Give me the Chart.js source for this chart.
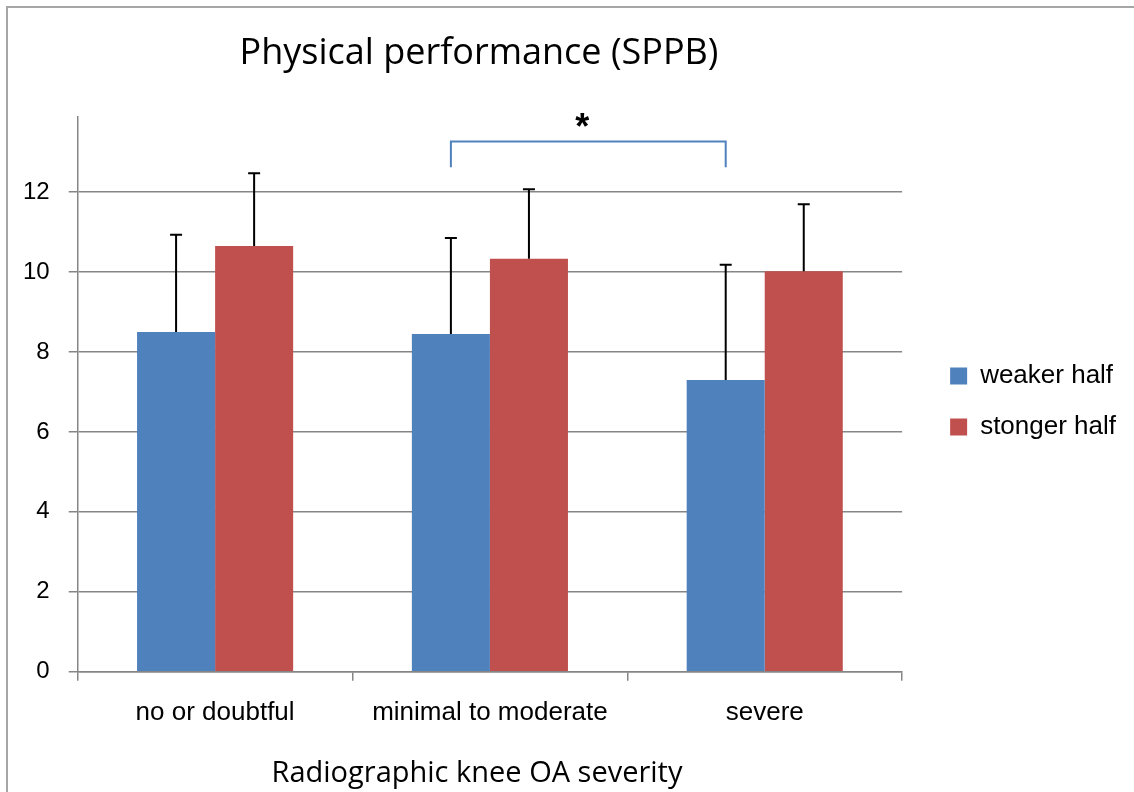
<!DOCTYPE html>
<html>
<head>
<meta charset="utf-8">
<script src="https://cdn.jsdelivr.net/npm/chart.js@4"></script>
<style>
  html, body { margin: 0; padding: 0; background: #fff; }
  #wrap { position: relative; width: 1134px; height: 792px; overflow: hidden; }
  #frame { position: absolute; left: 6px; top: 6px; right: -10px; bottom: -10px;
           border-left: 2px solid #a6a6a6; border-top: 2px solid #a6a6a6; pointer-events: none; }
</style>
</head>
<body>
<div id="wrap">
  <canvas id="chart" width="1134" height="792"></canvas>
  <div id="frame"></div>
</div>
<script>
const categories = ['no or doubtful', 'minimal to moderate', 'severe'];
const seriesNames = ['weaker half', 'stonger half'];
const weakerMeans = [8.5, 8.45, 7.3];
const weakerUpper = [10.93, 10.85, 10.18];
const strongerMeans = [10.65, 10.33, 10.02];
const strongerUpper = [12.47, 12.07, 11.69];
const seriesColors = ['#4f81bd', '#c0504d'];
const yMax = 13.875;
const yStep = 2;

// significance bracket: weaker half, minimal to moderate vs severe
const bracketFrom = 1;
const bracketTo = 2;
const bracketTop = 13.26;
const bracketFoot = 12.62;

const chartTitle = 'Physical performance (SPPB)';
const xTitle = 'Radiographic knee OA severity';

const axisGrey = '#868686';
const labelFont = 'Liberation Sans, Arial, sans-serif';
const titleFont = '"Open Sans", "Noto Sans", sans-serif';

// upper error bars
const errorBars = {
  id: 'errorBars',
  afterDatasetsDraw(chart) {
    const ctx = chart.ctx;
    const y = chart.scales.y;
    ctx.save();
    ctx.strokeStyle = '#000';
    ctx.lineWidth = 2;
    chart.data.datasets.forEach((ds, i) => {
      chart.getDatasetMeta(i).data.forEach((bar, j) => {
        const top = y.getPixelForValue(ds.upper[j]);
        ctx.beginPath();
        ctx.moveTo(bar.x, bar.y);
        ctx.lineTo(bar.x, top);
        ctx.moveTo(bar.x - 6, top);
        ctx.lineTo(bar.x + 6, top);
        ctx.stroke();
      });
    });
    ctx.restore();
  }
};

// titles, bracket and asterisk
const annotations = {
  id: 'annotations',
  afterLayout(chart) {
    // push the legend right and up, like the original
    const lg = chart.legend;
    lg.left += 23; lg.right += 23;
    lg.top -= 29; lg.bottom -= 29;
  },
  afterDraw(chart) {
    const ctx = chart.ctx;
    const y = chart.scales.y;
    const meta = chart.getDatasetMeta(0);
    ctx.save();

    ctx.fillStyle = '#000';
    ctx.textAlign = 'center';
    ctx.textBaseline = 'alphabetic';
    ctx.font = '36px ' + titleFont;
    ctx.fillText(chartTitle, 479, 64);
    ctx.font = '29px ' + titleFont;
    ctx.fillText(xTitle, 477, 782);

    const x1 = meta.data[bracketFrom].x;
    const x2 = meta.data[bracketTo].x;
    const yt = y.getPixelForValue(bracketTop);
    const yf = y.getPixelForValue(bracketFoot);
    ctx.strokeStyle = '#4f81bd';
    ctx.lineWidth = 2;
    ctx.beginPath();
    ctx.moveTo(x1, yf);
    ctx.lineTo(x1, yt);
    ctx.lineTo(x2, yt);
    ctx.lineTo(x2, yf);
    ctx.stroke();

    ctx.font = 'bold 36px ' + labelFont;
    ctx.fillText('*', (x1 + x2) / 2 - 6, 139);
    ctx.restore();
  }
};

new Chart(document.getElementById('chart'), {
  type: 'bar',
  data: {
    labels: categories,
    datasets: [{
      label: seriesNames[0],
      data: weakerMeans,
      upper: weakerUpper,
      backgroundColor: seriesColors[0]
    }, {
      label: seriesNames[1],
      data: strongerMeans,
      upper: strongerUpper,
      backgroundColor: seriesColors[1]
    }]
  },
  options: {
    responsive: false,
    animation: false,
    devicePixelRatio: 1,
    categoryPercentage: 0.568,
    barPercentage: 1,
    layout: {
      padding: { left: 4, top: 117, right: 31, bottom: 48 }
    },
    plugins: {
      title: { display: false },
      tooltip: { enabled: false },
      legend: {
        position: 'right',
        labels: {
          boxWidth: 17,
          boxHeight: 17,
          padding: 25,
          color: '#000',
          font: { family: labelFont, size: 26 }
        }
      }
    },
    scales: {
      x: {
        grid: {
          display: true,
          drawOnChartArea: false,
          drawTicks: true,
          tickLength: 9,
          color: axisGrey,
          lineWidth: 1.5
        },
        border: { color: axisGrey, width: 1.5 },
        ticks: {
          color: '#000',
          padding: 16,
          font: { family: labelFont, size: 26 }
        }
      },
      y: {
        min: 0,
        max: yMax,
        grid: {
          color: axisGrey,
          lineWidth: 1.5,
          tickLength: 9
        },
        border: { color: axisGrey, width: 1.5 },
        ticks: {
          stepSize: yStep,
          includeBounds: false,
          color: '#000',
          padding: 19,
          font: { family: labelFont, size: 24 }
        }
      }
    }
  },
  plugins: [errorBars, annotations]
});
</script>
</body>
</html>
